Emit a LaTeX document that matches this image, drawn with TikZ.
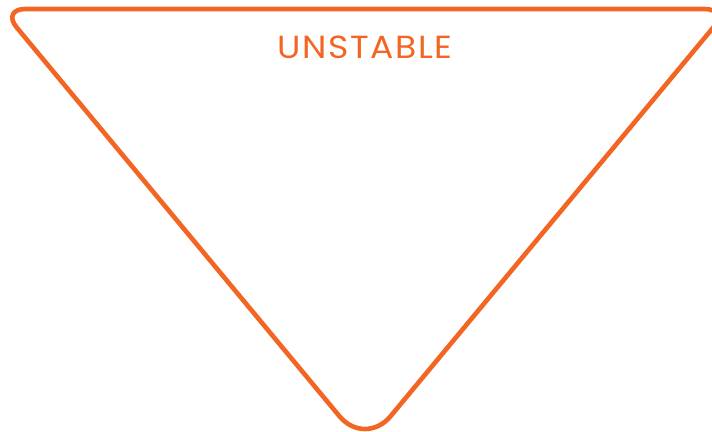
\documentclass[tikz,border=0pt]{standalone}
\usepackage{fontspec}
\newfontfamily\labelfont[LetterSpace=5,FakeStretch=1.08]{Poppins}
\usepackage{tikz}
\usetikzlibrary{calc}
\definecolor{warnorange}{RGB}{242,101,34}

\begin{document}
\begin{tikzpicture}[x=1pt,y=-1pt,
		edge/.style={draw=warnorange,line width=4.6pt,line join=round},
		caption/.style={text=warnorange,font=\labelfont\fontsize{32}{32}\selectfont,inner sep=0pt}]
				\useasboundingbox (0,0) rectangle (712,431);
				\coordinate (L) at (1.4,9);
				\coordinate (R) at (728.6,9);
				\coordinate (B) at (365,447);
				\coordinate (T) at ($(L)!0.5!(R)$);
				\draw[edge,rounded corners=24pt] (T) -- (R) [rounded corners=40pt] -- (B) [rounded corners=24pt] -- (L) -- cycle;
				\node[caption] (title) at (365,47.5) {UNSTABLE};
			\end{tikzpicture}
\end{document}
